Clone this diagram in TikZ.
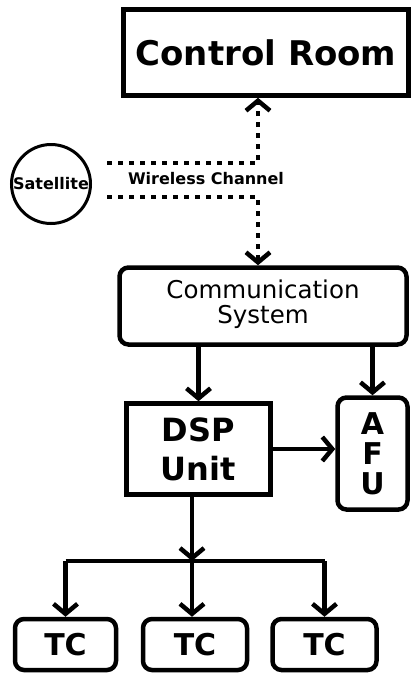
\documentclass[tikz,border=0pt]{standalone}
\usepackage{fontspec}
\setmainfont{DejaVu Sans}
\usetikzlibrary{positioning,arrows.meta,calc}
\tikzset{block/.style={draw,line width=4.5pt,align=center,inner sep=0pt,font=\bfseries},
         rblock/.style={block,rounded corners=9pt},
         line/.style={line width=4.5pt,-{Straight Barb[length=10pt,width=24pt,line width=4.5pt]}},
         wless/.style={line,dash pattern=on 5pt off 6pt}
}

\begin{document}
\begin{tikzpicture}[x=1pt,y=1pt,yscale=-1,xscale=1]
\useasboundingbox (0,0) rectangle (414,673);

% blocks
\node [block,minimum width=285,minimum height=86,font=\fontsize{34}{40}\bfseries] (room) at (266,52.5) {Control Room};
\node [draw,circle,line width=3pt,minimum size=79,inner sep=0pt,font=\fontsize{16}{18}\bfseries] (sat) at (51,184) {Satellite};
\node [rblock,minimum width=287,minimum height=77,font=\fontsize{24.5}{29}\selectfont] (comm) at (263,306) {Communication\\[-4pt]System\\[-21pt]};
\node [block,minimum width=144,minimum height=91,font=\fontsize{32}{39}\bfseries] (dsp) at (198.5,449) {DSP\\Unit};
\node [rblock,minimum width=70,minimum height=112,font=\fontsize{30}{30}\bfseries] (afu) at (372.5,453.5) {A\\F\\U};
\node [rblock,minimum width=101,minimum height=51,font=\fontsize{30}{36}\bfseries] (tc1) at (65.5,644.5) {TC};
\node [rblock,minimum width=104,minimum height=51,font=\fontsize{30}{36}\bfseries] (tc2) at (195,644.5) {TC};
\node [rblock,minimum width=104,minimum height=51,font=\fontsize{30}{36}\bfseries] (tc3) at (324.5,644.5) {TC};

% wireless link
\coordinate (wtop) at (107,163);
\coordinate (wbot) at (107,197);
\coordinate (wx) at (258,180);
\node [font=\fontsize{16}{18}\bfseries] (wlabel) at (206,179) {Wireless Channel};
\draw [wless] (wtop) -- (wtop -| wx) -- (wx |- room.south);
\draw [wless] (wbot) -- (wbot -| wx) -- (wx |- comm.north);

% wired links
\draw [line] (comm.south -| dsp) -- (dsp.north);
\draw [line] (comm.south -| afu) -- (afu.north);
\draw [line] (dsp.east) -- (dsp.east -| afu.west);

\coordinate (split) at (192,561);
\draw [line] (dsp.south -| split) -- (split);
\draw [line width=4.5pt] (tc1 |- split) -- (tc3 |- split);
\draw [line] (tc1 |- split) -- (tc1.north);
\draw [line] (split) -- (split |- tc2.north);
\draw [line] (tc3 |- split) -- (tc3.north);

\end{tikzpicture}
\end{document}
